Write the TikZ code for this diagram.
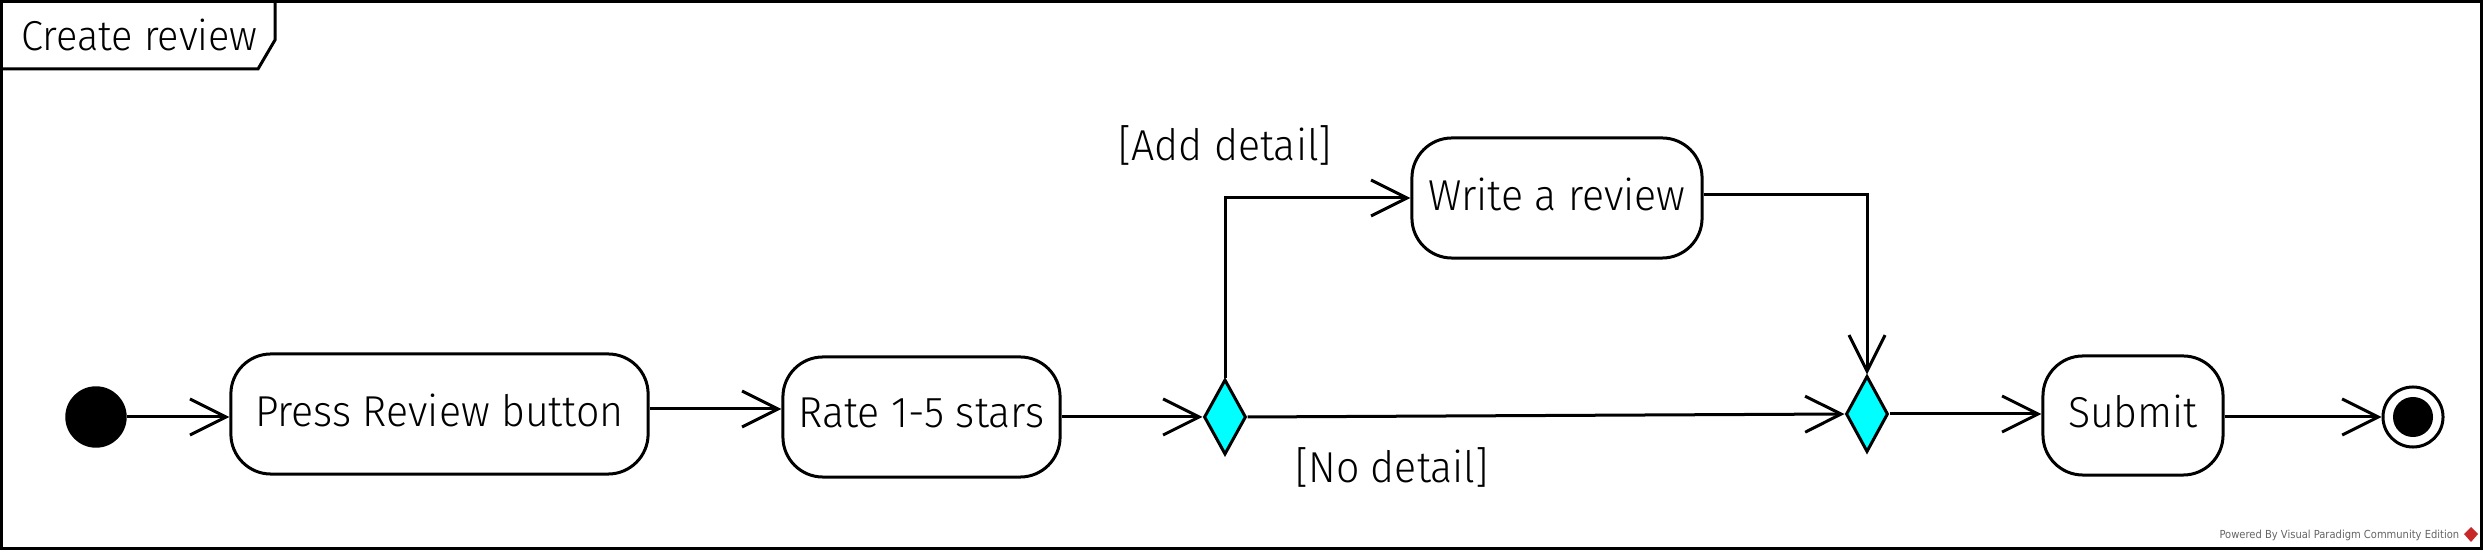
\documentclass[tikz,border=0pt]{standalone}
\usepackage{fontspec}
\setmainfont{Fira Sans}[UprightFont=* Light, FakeStretch=0.95]
\newfontfamily\wmfont{DejaVu Sans Condensed}
\usetikzlibrary{arrows.meta,shapes.geometric}
\definecolor{dcyan}{RGB}{0,255,255}
\definecolor{wmgray}{RGB}{100,100,100}
\definecolor{vpred}{RGB}{200,40,40}
\newcommand\uptext[1]{\raisebox{0.085cm}{#1}}
\tikzset{
  lw/.style={line width=0.03cm},
  act/.style={draw, lw, rounded corners=0.4cm, inner sep=0pt, font=\fontsize{12.3}{14}\selectfont},
  dec/.style={draw, lw, fill=dcyan, diamond, inner sep=0pt},
  arr/.style={lw, -{Straight Barb[length=0.36cm,width=0.36cm]}},
  guard/.style={font=\fontsize{12.3}{14}\selectfont, inner sep=0pt},
}
\begin{document}
\begin{tikzpicture}[x=0.01cm,y=-0.01cm]
\useasboundingbox (0,0) rectangle (2484,552);
% frame
\draw[lw] (1.5,1.5) rectangle (2481,549);
\draw[lw] (0,69) -- (258,69) -- (275,40) -- (275,0);
\node[anchor=west, inner sep=0pt, font=\fontsize{11.9}{13}\selectfont] (title) at (21,35) {Create review};
% nodes
\node[draw, fill=black, circle, minimum size=0.6cm, inner sep=0pt] (init) at (96,417) {};
\node[act, minimum width=4.17cm, minimum height=1.2cm] (press) at (439.5,414) {\uptext{Press Review button}};
\node[act, minimum width=2.77cm, minimum height=1.2cm] (rate) at (921.5,417) {\uptext{Rate 1-5 stars}};
\node[dec, minimum width=0.42cm, minimum height=0.75cm] (d1) at (1225,417) {};
\node[act, minimum width=2.9cm, minimum height=1.2cm] (write) at (1557,198) {\uptext{Write a review}};
\node[dec, minimum width=0.42cm, minimum height=0.76cm] (d2) at (1867,414) {};
\node[act, minimum width=1.8cm, minimum height=1.19cm] (submit) at (2133,415.5) {\uptext{Submit}};
\node[draw, lw, circle, minimum size=0.6cm, inner sep=0pt] (final) at (2413,417) {};
\node[fill=black, circle, minimum size=0.4cm, inner sep=0pt] (finalin) at (final) {};
% guards
\node[guard] (gadd) at (1225,145) {[Add detail]};
\node[guard] (gno) at (1392,467) {[No detail]};
% connectors
\draw[arr] (init) -- (init -| press.west);
\draw[arr] ([yshift=0.05cm]press.east) -- ([yshift=0.05cm]press.east -| rate.west);
\draw[arr] (rate.east) -- (d1.west);
\draw[arr] (d1.north) |- (write.west);
\draw[arr] ([yshift=0.03cm]write.east) -| (d2.north);
\draw[arr] (d1.east) -- (d2.west);
\draw[arr] (d2.east) -- (d2.east -| submit.west);
\draw[arr] (submit.east |- final) -- (final.west);
% watermark
\node[anchor=east, inner sep=0pt, text=wmgray, font=\wmfont\fontsize{3.15}{4}\selectfont] (wm) at (2460,535) {Powered By Visual Paradigm Community Edition};
\fill[vpred] (2471,527) -- (2478,534) -- (2471,542) -- (2464,534) -- cycle;
\end{tikzpicture}
\end{document}
